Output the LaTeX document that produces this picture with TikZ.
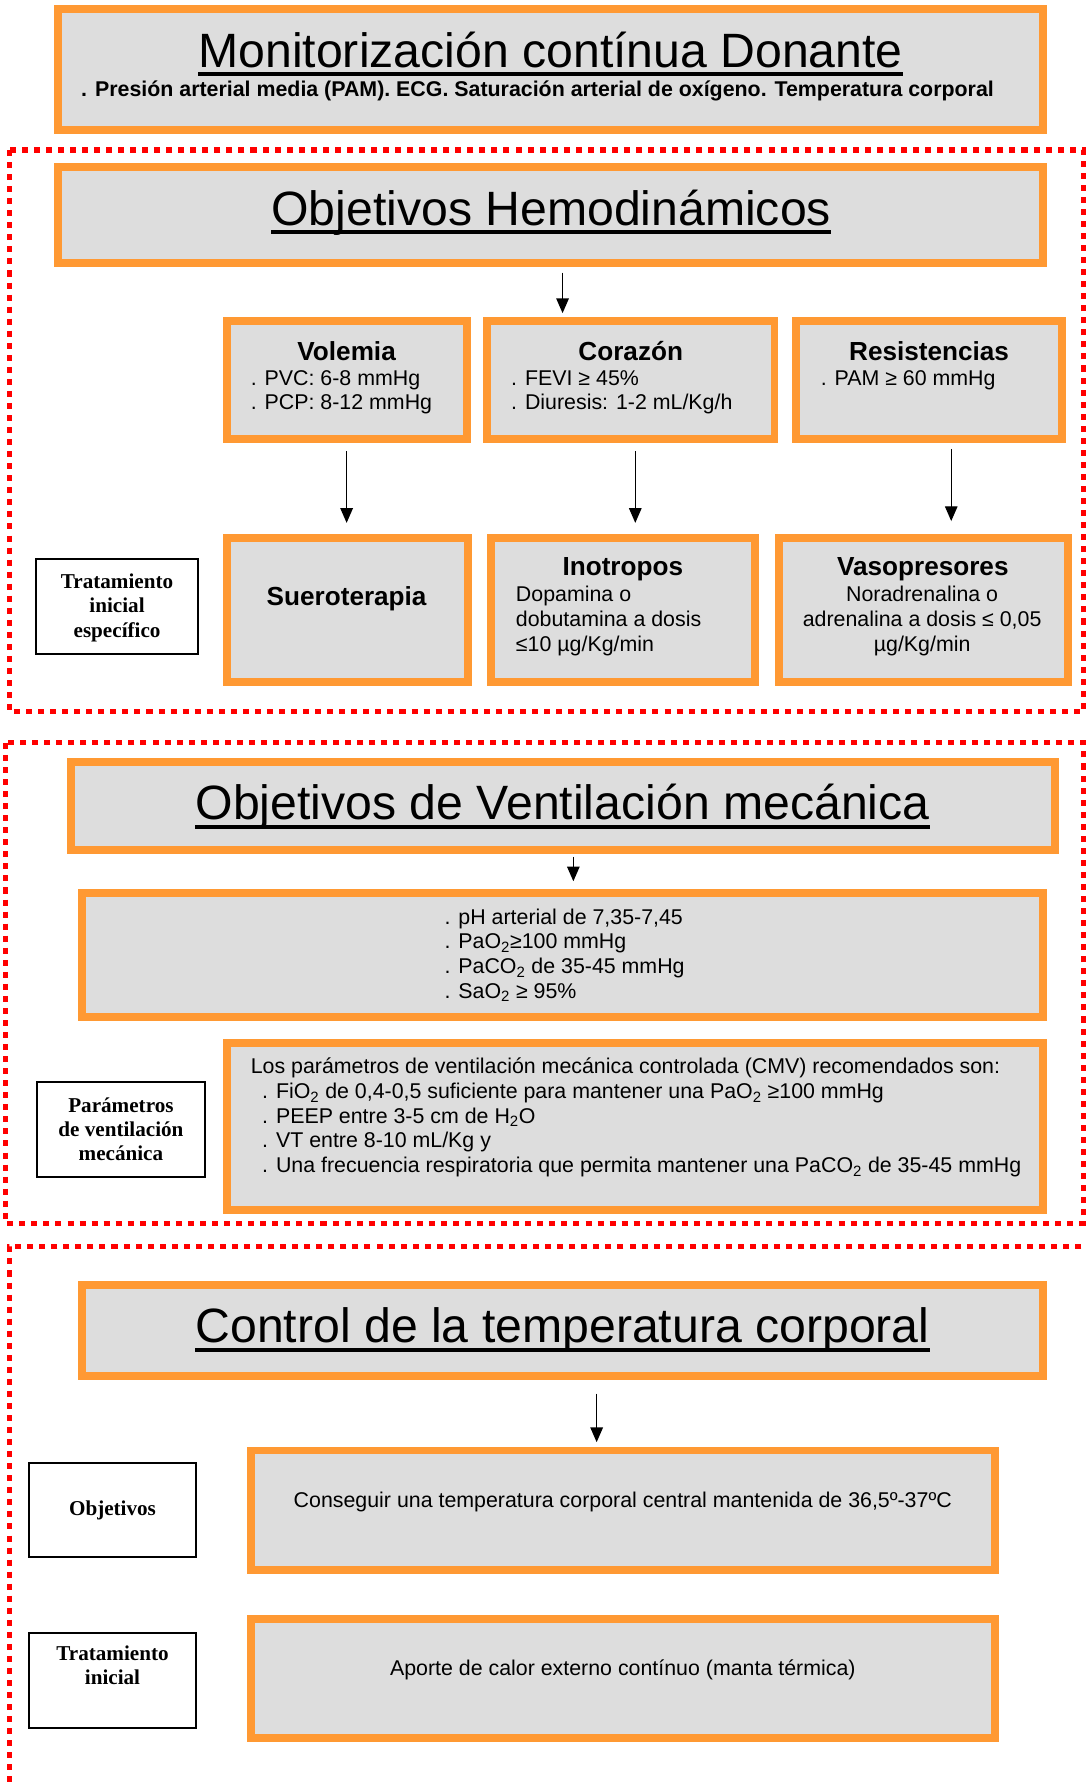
\documentclass[tikz,border=0pt]{standalone}
\usepackage{fontspec}
\setmainfont{Liberation Sans}
\newfontfamily\serifbox{Liberation Serif}
\usetikzlibrary{arrows.meta}
\definecolor{orgline}{HTML}{FF9933}
\definecolor{boxgray}{HTML}{DDDDDD}
\definecolor{zonered}{HTML}{FF0000}
\tikzset{obox/.style={draw=orgline,fill=boxgray,line width=7pt,inner sep=0pt}}
\tikzset{bbox/.style={draw=black,fill=white,line width=1.8pt,inner sep=0pt}}
\tikzset{rzone/.style={draw=zonered,line width=4.5pt,dash pattern=on 5.3pt off 5.3pt}}
\tikzset{marrow/.style={line width=1.2pt,-{Triangle[length=13pt,width=11pt]}}}
\tikzset{mtitle/.style={inner sep=0pt,anchor=base,font=\fontsize{42.4}{50}\selectfont}}
\tikzset{mhead/.style={inner sep=0pt,anchor=base,font=\bfseries\fontsize{23}{27}\selectfont}}
\tikzset{mtext/.style={inner sep=0pt,anchor=base west,font=\fontsize{18.8}{21.7}\selectfont}}
\tikzset{mside/.style={inner sep=0pt,anchor=base,font=\serifbox\bfseries\fontsize{18.6}{21.3}\selectfont}}
\tikzset{uline/.style={line width=3.5pt}}
\newcommand{\rows}[2][l]{\begin{tabular}[t]{@{}#1@{}}#2\end{tabular}}

\begin{document}
\begin{tikzpicture}[x=1pt,y=-1pt]
\useasboundingbox (0,0) rectangle (955,1568);

\draw[rzone] (8.5,132) rectangle (953,626.4);
\draw[rzone] (4.9,653.7) rectangle (953.5,1076.2);
\draw[rzone] (962,1096.7) -| (8,1575);

\node[obox,minimum width=867pt,minimum height=106pt] (moni) at (484.5,61) {};
\node[mtitle] (monit) at (484.5,59) {Monitorización contínua Donante};
\draw[uline] ([yshift=-6pt]monit.base west) -- ([yshift=-6pt]monit.base east);
\node[inner sep=0pt,anchor=base,font=\bfseries\fontsize{18.8}{22}\selectfont] (monis) at (473,85)
  {. Presión arterial media (PAM). ECG. Saturación arterial de oxígeno. Temperatura corporal};

\node[obox,minimum width=867pt,minimum height=84.5pt] (hemo) at (484.5,189.5) {};
\node[mtitle] (hemot) at (485,198) {Objetivos Hemodinámicos};
\draw[uline] ([yshift=-6.5pt]hemot.base west) -- ([yshift=-6.5pt]hemot.base east);

\node[obox,minimum width=211pt,minimum height=103.7pt] (vol) at (305,334.7) {};
\node[obox,minimum width=253pt,minimum height=103.7pt] (cora) at (555,334.7) {};
\node[obox,minimum width=234pt,minimum height=103.7pt] (resi) at (817.5,334.7) {};
\node[mhead] (volt) at (305,317) {Volemia};
\node[mtext] (volx) at (220.5,339) {\rows{. PVC: 6-8 mmHg\\. PCP: 8-12 mmHg}};
\node[mhead] (corat) at (555,317) {Corazón};
\node[mtext] (corax) at (449.6,339) {\rows{. FEVI ≥ 45\%\\. Diuresis: 1-2 mL/Kg/h}};
\node[mhead] (resit) at (817.5,317) {Resistencias};
\node[mtext] (resix) at (722,339) {\rows{. PAM ≥ 60 mmHg}};

\node[obox,minimum width=212.5pt,minimum height=127pt] (suero) at (305.8,536.5) {};
\node[obox,minimum width=232.4pt,minimum height=127pt] (inot) at (548.5,536.5) {};
\node[obox,minimum width=253.8pt,minimum height=127pt] (vaso) at (812.6,536.5) {};
\node[mhead] (sueroT) at (305,532.5) {Sueroterapia};
\node[mhead] (inott) at (548,506) {Inotropos};
\node[mtext] (inotx) at (453.8,529.6) {\rows{Dopamina o\\dobutamina a dosis\\≤10 µg/Kg/min}};
\node[mhead] (vasot) at (812,506) {Vasopresores};
\node[mtext,anchor=base] (vasox) at (811.4,529.6) {\rows[c]{Noradrenalina o\\adrenalina a dosis ≤ 0,05\\µg/Kg/min}};

\node[bbox,minimum width=143pt,minimum height=83.3pt] (trat) at (103,533.5) {};
\node[mside] (tratx) at (103,517.9) {\rows[c]{Tratamiento\\inicial\\específico}};

\draw[marrow,shorten <=4.7pt,shorten >=3.8pt] ([xshift=10.5pt]hemo.south) -- ([xshift=10.5pt]hemo.south |- cora.north);
\draw[marrow,shorten <=7pt,shorten >=9.4pt] (vol.south) -- (vol.south |- suero.north);
\draw[marrow,shorten <=7pt,shorten >=9.4pt] ([xshift=4pt]cora.south) -- ([xshift=4pt]cora.south |- inot.north);
\draw[marrow,shorten <=5pt,shorten >=11pt] ([xshift=19.5pt]resi.south) -- ([xshift=19.5pt]resi.south |- vaso.north);

\node[obox,minimum width=866pt,minimum height=77pt] (vent) at (495.5,709) {};
\node[mtitle] (ventt) at (495,721) {Objetivos de Ventilación mecánica};
\draw[uline] ([yshift=-6.5pt]ventt.base west) -- ([yshift=-6.5pt]ventt.base east);

\node[obox,minimum width=845.8pt,minimum height=109.7pt] (gases) at (495.2,840.3) {};
\node[mtext] (gasesx) at (391,813.3) {\rows{. pH arterial de 7,35-7,45\\. PaO\textsubscript{2}≥100 mmHg\\. PaCO\textsubscript{2} de 35-45 mmHg\\. SaO\textsubscript{2} ≥ 95\%}};
\draw[marrow,shorten <=3pt,shorten >=6.5pt] ([xshift=9pt]vent.south) -- ([xshift=9pt]vent.south |- gases.north);

\node[obox,minimum width=718.6pt,minimum height=147pt] (param) at (558.8,991) {};
\node[mtext] (paramx) at (220.5,945) {\rows{Los parámetros de ventilación mecánica controlada (CMV) recomendados son:\\
  \hspace*{10pt}. FiO\textsubscript{2} de 0,4-0,5 suficiente para mantener una PaO\textsubscript{2} ≥100 mmHg\\
  \hspace*{10pt}. PEEP entre 3-5 cm de H\textsubscript{2}O\\
  \hspace*{10pt}. VT entre 8-10 mL/Kg y\\
  \hspace*{10pt}. Una frecuencia respiratoria que permita mantener una PaCO\textsubscript{2} de 35-45 mmHg}};
\node[bbox,minimum width=147.5pt,minimum height=83.7pt] (paramb) at (106.4,994.2) {};
\node[mside] (parambx) at (106.4,978.5) {\rows[c]{Parámetros\\de ventilación\\mecánica}};

\node[obox,minimum width=845.8pt,minimum height=79.7pt] (temp) at (495.2,1170.6) {};
\node[mtitle] (tempt) at (495,1181) {Control de la temperatura corporal};
\draw[uline] ([yshift=-6.5pt]tempt.base west) -- ([yshift=-6.5pt]tempt.base east);

\node[obox,minimum width=654.6pt,minimum height=105pt] (consg) at (548.2,1328.8) {};
\node[mtext,anchor=base] (consgx) at (548,1326.2) {Conseguir una temperatura corporal central mantenida de 36,5º-37ºC};
\draw[marrow,shorten <=12.4pt,shorten >=3.8pt] ([xshift=29.8pt]temp.south) -- ([xshift=29.8pt]temp.south |- consg.north);
\node[bbox,minimum width=147.4pt,minimum height=82.4pt] (objt) at (99,1328.7) {};
\node[mside] (objtx) at (99,1333.5) {Objetivos};

\node[obox,minimum width=654.6pt,minimum height=105.3pt] (aporte) at (548.2,1476.8) {};
\node[mtext,anchor=base] (aportex) at (548,1474.4) {Aporte de calor externo contínuo (manta térmica)};
\node[bbox,minimum width=147.4pt,minimum height=83.3pt] (tratt) at (99,1478.8) {};
\node[mside] (trattx) at (99,1461.2) {\rows[c]{Tratamiento\\inicial}};

\end{tikzpicture}
\end{document}
